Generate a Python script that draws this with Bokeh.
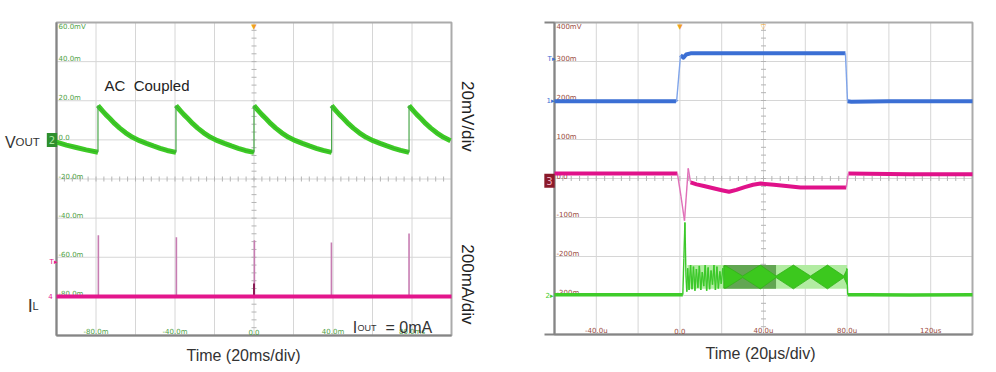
import numpy as np
from bokeh.plotting import figure
from bokeh.models import Range1d, Label
from bokeh.layouts import row
from bokeh.embed import file_html
from bokeh.resources import INLINE
from bokeh.core.properties import value

# ======================= LEFT SCOPE (IOUT = 0 mA) =======================
L_T_RANGE = (-100, 100)      # ms, 20 ms/div
L_V_RANGE = (-100, 60)       # mV, 20 mV/div (VOUT, AC coupled)
L_I_RANGE = (-200, 1400)     # mA, 200 mA/div (IL)
L_T_DIV, L_V_DIV = 20, 20

L_Y_TICKS = [60, 40, 20, 0, -20, -40, -60, -80]
L_Y_LABELS = ["60.0mV", "40.0m", "20.0m", "0.0", "-20.0m", "-40.0m", "-60.0m", "-80.0m"]
L_X_TICKS = [-80, -40, 0, 40, 80]
L_X_LABELS = ["-80.0m", "-40.0m", "0.0", "40.0m", "80.0ms"]

# VOUT: start of the record (tail of an earlier cycle)
VOUT_HEAD_T = [-100, -95, -90, -85, -79.0]
VOUT_HEAD_MV = [-1.2, -2.7, -3.9, -5.1, -6.3]
# instants of the switching bursts (ms)
VOUT_EDGE_T = [-79.0, -39.5, 0.0, 39.3, 78.5]
# one decay cycle after a burst: time after burst (ms), VOUT (mV)
CYCLE_DT = [0, 1, 2.5, 4, 6, 8.5, 11, 14, 17.5, 21, 24.5, 28, 31.5, 35, 39.3]
CYCLE_MV = [17.6, 16.3, 14.6, 12.9, 10.9, 8.3, 6.0, 3.6, 1.3, -0.4, -1.8, -3.1, -4.3, -5.4, -6.4]

# IL spikes (mA) at the bursts
IL_SPIKE_T = [-78.8, -39.3, 0.2, 39.2, 78.5]
IL_SPIKE_MA = [312, 302, 287, 276, 322]
IL_DARK_T = [0.0]
IL_DARK_MA = [66]
IL_BASE_T = [-100, 100]
IL_BASE_MA = [0, 0]

# ======================= RIGHT SCOPE (load step) =======================
R_T_RANGE = (-60, 140)       # us, 20 us/div
R_V_RANGE = (-400, 400)      # mV, 100 mV/div
R_T_DIV, R_V_DIV = 20, 100

R_Y_TICKS = [400, 300, 200, 100, 0, -100, -200, -300]
R_Y_LABELS = ["400mV", "300m", "200m", "100m", "0.0", "-100m", "-200m", "-300m"]
R_X_TICKS = [-40, 0, 40, 80, 120]
R_X_LABELS = ["-40.0u", "0.0", "40.0u", "80.0u", "120us"]

BLUE_T = [-60, -2.0, -1.6, 0.3, 1.7, 3.0, 5.1, 20, 40, 60, 79.2, 80.2, 82, 100, 140]
BLUE_MV = [198, 198, 196, 316, 310, 318, 321, 321, 321, 321, 321, 198, 197, 198, 198]

PINK_T = [-60, -1.2, 0.5, 2.2, 4.0, 5.1, 8, 12, 16, 20, 23.5, 27, 31, 35, 38.6,
          45, 52, 57.7, 65, 72, 79.6, 80.6, 90, 110, 140]
PINK_MV = [13, 13, -45, -108, 26, -10, -15, -20, -25, -30, -34, -29, -22, -16, -13,
           -16, -20, -23, -23, -23, -23, 13, 12, 11, 11]

GREEN_PRE_T = [-60, 1.4, 1.9, 2.4, 2.9, 3.3, 3.7, 4.4, 5.1, 5.8, 6.5, 7.2, 7.9, 8.6, 9.3,
               10.0, 10.7, 11.4, 12.1, 12.8, 13.5, 14.2, 14.9, 15.6, 16.3, 17.0, 17.7,
               18.4, 19.1, 19.8, 20.5, 21.2]
GREEN_PRE_MV = [-298, -298, -205, -113, -250, -290, -230, -286, -222, -284, -226, -288,
                -232, -280, -224, -286, -240, -276, -222, -288, -228, -284, -236, -272,
                -222, -286, -226, -282, -238, -270, -230, -262]
GREEN_POST_T = [79.8, 80.3, 90, 110, 140]
GREEN_POST_MV = [-230, -298, -298, -299, -298]
# ripple band, its darker part, and the beat envelope
BAND_T = [3.6, 80.0]
BAND_MV = [-283, -222]
BAND_DARK_T = [21, 46]
ENV_T = [21, 22, 30, 38.5, 46, 54.3, 62.5, 70.6, 78.4, 80]
ENV_TOP_MV = [-224, -224, -250, -222, -250, -222, -250, -222, -250, -232]
ENV_BOT_MV = [-281, -281, -254, -283, -254, -283, -254, -283, -254, -272]

FONT = "Liberation Sans"
TICK_FONT = "DejaVu Sans"

# canvas geometry (px): figure size and the scope screen inside it
L_W, R_W, H = 508, 488, 372
L_BOX = dict(left=56, right=451, top=22, bottom=335)
R_BOX = dict(left=46, right=464, top=22, bottom=334)


def ext_range(lo, hi, px_lo, px_span, px_hi):
    upp = (hi - lo) / px_span
    return (lo - px_lo * upp, hi + px_hi * upp)


def split_steep(t, v, px_t, px_v, lim=2.5):
    """Split a trace into flat runs (thick) and steep edges (thin)."""
    runs, steep = [], []
    ct, cv = [t[0]], [v[0]]
    for i in range(1, len(t)):
        dx = abs(t[i] - t[i - 1]) * px_t
        dy = abs(v[i] - v[i - 1]) * px_v
        if dy > 3 and dy > lim * dx:
            steep.append((t[i - 1], v[i - 1], t[i], v[i]))
            if len(ct) > 1:
                runs.append((ct, cv))
            ct, cv = [t[i]], [v[i]]
        else:
            ct.append(t[i]); cv.append(v[i])
    if len(ct) > 1:
        runs.append((ct, cv))
    return runs, steep


def make_fig(w, box, xr, yr):
    xe = ext_range(xr[0], xr[1], box["left"], box["right"] - box["left"], w - box["right"])
    ye = ext_range(yr[0], yr[1], H - box["bottom"], box["bottom"] - box["top"], box["top"])
    p = figure(width=w, height=H, x_range=Range1d(*xe), y_range=Range1d(*ye),
               x_axis_location=None, y_axis_location=None,
               output_backend="svg", toolbar_location=None, min_border=0,
               min_border_left=0, min_border_right=0, min_border_top=0, min_border_bottom=0)
    p.background_fill_color = "white"
    p.border_fill_color = "white"
    p.outline_line_color = None
    p.grid.visible = False
    return p


def draw_screen(p, xr, yr, xdiv, ydiv, upx):
    gx = np.arange(xr[0], xr[1] + 1e-9, xdiv)
    gy = np.arange(yr[0], yr[1] + 1e-9, ydiv)
    p.segment(x0=gx, y0=[yr[0]] * len(gx), x1=gx, y1=[yr[1]] * len(gx),
              line_color="#d6d6d6", line_width=1)
    p.segment(x0=[xr[0]] * len(gy), y0=gy, x1=[xr[1]] * len(gy), y1=gy,
              line_color="#d6d6d6", line_width=1)
    xc = (xr[0] + xr[1]) / 2
    yc = yr[1] - 4 * ydiv
    ys = np.arange(yr[0], yr[1] + 1e-9, ydiv / 5)
    xs = np.arange(xr[0], xr[1] + 1e-9, xdiv / 5)
    p.scatter(x=[xc] * len(ys), y=ys, marker="dash", size=5, line_color="#b4b4b4", line_width=1)
    p.scatter(x=xs, y=[yc] * len(xs), marker="dash", size=5, angle=np.pi / 2,
              line_color="#b4b4b4", line_width=1)
    p.quad(left=xr[0], right=xr[1], bottom=yr[0], top=yr[1], fill_color=None,
           line_color="#ababab", line_width=2)
    p.segment(x0=[xr[0] - upx, xr[0] - upx, xr[0]], y0=[yr[0], yr[1], yr[0]],
              x1=[xr[1], xr[0], xr[0]], y1=[yr[0], yr[1], yr[1]],
              line_color="#858585", line_width=2)


def add_tick_texts(p, xr, yr, yt, yl, xt, xl, color):
    yoff = [4.0 if t == yr[1] else -2.5 for t in yt]
    p.text(x=[xr[0]] * len(yt), y=yt, text=yl, x_offset=2, y_offset=yoff,
           text_font=value(TICK_FONT), text_font_size="7px", text_color=color,
           text_baseline="middle", text_align="left")
    p.text(x=xt, y=[yr[0]] * len(xt), text=xl, y_offset=-3.5,
           text_font=value(TICK_FONT), text_font_size="7px", text_color=color,
           text_baseline="middle", text_align="center")


# ----------------------------- LEFT -----------------------------
pL = make_fig(L_W, L_BOX, L_T_RANGE, L_V_RANGE)
iext = ext_range(L_I_RANGE[0], L_I_RANGE[1], H - L_BOX["bottom"],
                 L_BOX["bottom"] - L_BOX["top"], L_BOX["top"])
pL.extra_y_ranges = {"cur": Range1d(*iext)}
pxt_L = (L_BOX["right"] - L_BOX["left"]) / (L_T_RANGE[1] - L_T_RANGE[0])
pxv_L = (L_BOX["bottom"] - L_BOX["top"]) / (L_V_RANGE[1] - L_V_RANGE[0])
draw_screen(pL, L_T_RANGE, L_V_RANGE, L_T_DIV, L_V_DIV, 0)
add_tick_texts(pL, L_T_RANGE, L_V_RANGE, L_Y_TICKS, L_Y_LABELS, L_X_TICKS, L_X_LABELS, "#4f9f45")

# VOUT series built from the read head + per-burst decay cycle
vt, vv = list(VOUT_HEAD_T), list(VOUT_HEAD_MV)
for i, e in enumerate(VOUT_EDGE_T):
    last = i + 1 == len(VOUT_EDGE_T)
    end = L_T_RANGE[1] if last else VOUT_EDGE_T[i + 1]
    for dt, mv in zip(CYCLE_DT, CYCLE_MV):
        if last:
            if e + dt <= end:
                vt.append(e + dt); vv.append(mv)
        elif dt < CYCLE_DT[-1] and e + dt < end:
            vt.append(e + dt); vv.append(mv)
    if not last:
        vt.append(end); vv.append(CYCLE_MV[-1])

runs, steep = split_steep(vt, vv, pxt_L, pxv_L)

# IL spikes and baseline
pL.segment(x0=IL_SPIKE_T, y0=[0] * len(IL_SPIKE_T), x1=IL_SPIKE_T, y1=IL_SPIKE_MA,
           y_range_name="cur", line_color="#c77db2", line_width=1.6)
pL.segment(x0=IL_DARK_T, y0=[0], x1=IL_DARK_T, y1=IL_DARK_MA,
           y_range_name="cur", line_color="#8a1d55", line_width=2)
pL.line(IL_BASE_T, IL_BASE_MA, y_range_name="cur", line_color="#e3168c", line_width=4)

pL.multi_line(xs=[r[0] for r in runs], ys=[r[1] for r in runs], line_color="#3ecb26", line_width=5)
pL.multi_line(xs=[r[0] for r in runs], ys=[r[1] for r in runs], line_color="#2a9a22",
              line_width=1, line_alpha=0.55)
pL.segment(x0=[s[0] for s in steep], y0=[s[1] for s in steep],
           x1=[s[2] for s in steep], y1=[s[3] for s in steep],
           line_color="#4aa84a", line_width=1.2)

pL.add_layout(Label(x=-75.7, y=27.8, text="AC\u00a0\u00a0Coupled", text_font=FONT,
                    text_font_size="15px", text_color="#222222", text_baseline="middle"))
# IOUT = 0mA
pL.add_layout(Label(x=50, y=-160, y_range_name="cur", text="I", text_font=FONT,
                    text_font_size="16px", text_color="#333333", text_baseline="alphabetic"))
pL.add_layout(Label(x=52.4, y=-160, y_range_name="cur", text="OUT", text_font=FONT,
                    text_font_size="9px", text_color="#333333", text_baseline="alphabetic"))
pL.add_layout(Label(x=66.6, y=-160, y_range_name="cur", text="=\u00a00mA", text_font=FONT,
                    text_font_size="16px", text_color="#333333", text_baseline="alphabetic"))
# channel names outside the screen
pL.add_layout(Label(x=L_T_RANGE[0], x_offset=-51.5, y=0, y_offset=-2.6, text="V", text_font=FONT,
                    text_font_size="16px", text_color="#333333", text_baseline="alphabetic"))
pL.add_layout(Label(x=L_T_RANGE[0], x_offset=-41, y=0, y_offset=-2.6, text="OUT", text_font=FONT,
                    text_font_size="11.5px", text_color="#333333", text_baseline="alphabetic"))
pL.add_layout(Label(x=L_T_RANGE[0], x_offset=-4.5, y=0, text="2", text_font=TICK_FONT,
                    text_font_size="10px", text_color="#a8e8a0", background_fill_color="#2e8f2e",
                    padding=(2, 3), text_align="center", text_baseline="middle"))
pL.add_layout(Label(x=L_T_RANGE[0], x_offset=-28.7, y=0, y_range_name="cur", y_offset=-10,
                    text="I", text_font=FONT, text_font_size="18px", text_color="#333333",
                    text_baseline="alphabetic"))
pL.add_layout(Label(x=L_T_RANGE[0], x_offset=-24, y=0, y_range_name="cur", y_offset=-10,
                    text="L", text_font=FONT, text_font_size="11px", text_color="#333333",
                    text_baseline="alphabetic"))
pL.add_layout(Label(x=L_T_RANGE[0], x_offset=-3, y=174, y_range_name="cur", text="T▸",
                    text_font=TICK_FONT, text_font_size="7px", text_color="#e3168c",
                    text_align="center", text_baseline="middle"))
pL.add_layout(Label(x=L_T_RANGE[0], x_offset=-6, y=0, y_range_name="cur", text="4",
                    text_font=TICK_FONT, text_font_size="7px", text_color="#e3168c",
                    text_align="center", text_baseline="middle"))
pL.add_layout(Label(x=0, y=L_V_RANGE[1], text="▼", text_font=TICK_FONT, text_font_size="7px",
                    text_color="#f0a020", text_align="center", text_baseline="top"))
# scale captions
pL.add_layout(Label(x=L_T_RANGE[1], x_offset=15.7, y=12, text="20mV/div", angle=-np.pi / 2,
                    text_font=FONT, text_font_size="17px", text_color="#222222",
                    text_align="center", text_baseline="middle"))
pL.add_layout(Label(x=L_T_RANGE[1], x_offset=15.7, y=61, y_range_name="cur", text="200mA/div",
                    angle=-np.pi / 2, text_font=FONT, text_font_size="17px", text_color="#222222",
                    text_align="center", text_baseline="middle"))
pL.add_layout(Label(x=0, x_offset=-10.5, y=L_V_RANGE[0], y_offset=-20, text="Time (20ms/div)",
                    text_font=FONT, text_font_size="16px", text_color="#333333",
                    text_align="center", text_baseline="middle"))

# ----------------------------- RIGHT -----------------------------
pR = make_fig(R_W, R_BOX, R_T_RANGE, R_V_RANGE)
pxt_R = (R_BOX["right"] - R_BOX["left"]) / (R_T_RANGE[1] - R_T_RANGE[0])
pxv_R = (R_BOX["bottom"] - R_BOX["top"]) / (R_V_RANGE[1] - R_V_RANGE[0])
draw_screen(pR, R_T_RANGE, R_V_RANGE, R_T_DIV, R_V_DIV, 10 / pxt_R)
add_tick_texts(pR, R_T_RANGE, R_V_RANGE, R_Y_TICKS, R_Y_LABELS, R_X_TICKS, R_X_LABELS, "#9a4a40")

# green band + envelope
pR.quad(left=BAND_T[0], right=BAND_T[1], bottom=BAND_MV[0], top=BAND_MV[1],
        fill_color="#b2eca2", line_color=None)
pR.quad(left=BAND_DARK_T[0], right=BAND_DARK_T[1], bottom=BAND_MV[0], top=BAND_MV[1],
        fill_color="#62a652", line_color=None)
pR.patch(x=ENV_T + ENV_T[::-1], y=ENV_TOP_MV + ENV_BOT_MV[::-1],
         fill_color="#3cc81e", line_color="#34b01a", line_width=0.8)


def draw_trace(p, t, v, thick_color, thin_color, w=4):
    runs, steep = split_steep(t, v, pxt_R, pxv_R)
    if runs:
        p.multi_line(xs=[r[0] for r in runs], ys=[r[1] for r in runs],
                     line_color=thick_color, line_width=w, line_join="round")
    if steep:
        p.segment(x0=[s[0] for s in steep], y0=[s[1] for s in steep],
                  x1=[s[2] for s in steep], y1=[s[3] for s in steep],
                  line_color=thin_color, line_width=1.4)


draw_trace(pR, GREEN_PRE_T, GREEN_PRE_MV, "#3fcc2a", "#3cc82a", 3.5)
draw_trace(pR, GREEN_POST_T, GREEN_POST_MV, "#3fcc2a", "#3cc82a", 3.5)
draw_trace(pR, PINK_T, PINK_MV, "#e0128a", "#e070b8", 4)
draw_trace(pR, BLUE_T, BLUE_MV, "#3b6fd4", "#7fa4ea", 4)

# channel markers
pR.add_layout(Label(x=R_T_RANGE[0], x_offset=-3, y=307, text="T▸", text_font=TICK_FONT,
                    text_font_size="7px", text_color="#3b6fd4", text_align="center",
                    text_baseline="middle"))
pR.add_layout(Label(x=R_T_RANGE[0], x_offset=-4, y=200, text="1▸", text_font=TICK_FONT,
                    text_font_size="7px", text_color="#3b6fd4", text_align="center",
                    text_baseline="middle"))
pR.add_layout(Label(x=R_T_RANGE[0], x_offset=-5, y=-6, text="3", text_font=TICK_FONT,
                    text_font_size="10px", text_color="#f0b0c0", background_fill_color="#8b1a2a",
                    padding=(2, 3), text_align="center", text_baseline="middle"))
pR.add_layout(Label(x=R_T_RANGE[0], x_offset=-5, y=-300, text="2▸", text_font=TICK_FONT,
                    text_font_size="7px", text_color="#3fcc2a", text_align="center",
                    text_baseline="middle"))
pR.add_layout(Label(x=0, y=R_V_RANGE[1], text="▼", text_font=TICK_FONT, text_font_size="7px",
                    text_color="#f0a020", text_align="center", text_baseline="top"))
pR.add_layout(Label(x=40, y=R_V_RANGE[1], text="▽", text_font=TICK_FONT, text_font_size="7px",
                    text_color="#f0a020", text_align="center", text_baseline="top"))
pR.add_layout(Label(x=40, x_offset=-3, y=R_V_RANGE[0], y_offset=-19, text="Time (20μs/div)",
                    text_font=FONT, text_font_size="16px", text_color="#333333",
                    text_align="center", text_baseline="middle"))

layout = row(pL, pR)
open("out.html", "w").write(file_html(layout, INLINE))
